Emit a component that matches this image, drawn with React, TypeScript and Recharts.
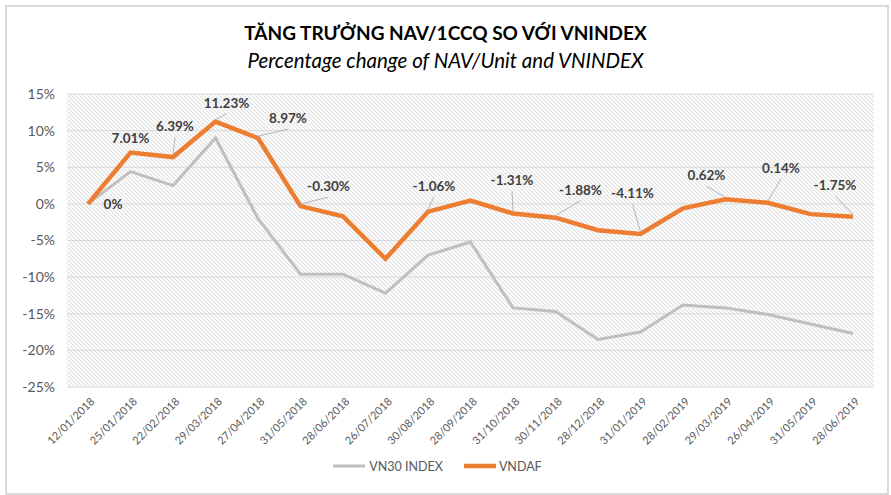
import React from 'react';
import { LineChart, Line, XAxis, YAxis, CartesianGrid, Legend } from 'recharts';

const categories = ['12/01/2018','25/01/2018','22/02/2018','29/03/2018','27/04/2018','31/05/2018','28/06/2018','26/07/2018','30/08/2018','28/09/2018','31/10/2018','30/11/2018','28/12/2018','31/01/2019','28/02/2019','29/03/2019','26/04/2019','31/05/2019','28/06/2019'];
const vn30Values = [0, 4.4, 2.5, 9.0, -2.0, -9.6, -9.6, -12.2, -7.0, -5.2, -14.2, -14.7, -18.5, -17.5, -13.8, -14.2, -15.1, -16.4, -17.7];
const vndafValues = [0, 7.01, 6.39, 11.23, 8.97, -0.30, -1.7, -7.5, -1.06, 0.45, -1.31, -1.88, -3.6, -4.11, -0.6, 0.62, 0.14, -1.4, -1.75];
const vndafLabels = ['0%','7.01%','6.39%','11.23%','8.97%','-0.30%','','','-1.06%','','-1.31%','-1.88%','','-4.11%','','0.62%','0.14%','','-1.75%'];
const yTicks = [-25, -20, -15, -10, -5, 0, 5, 10, 15];

const data = categories.map((c, i) => ({ date: c, vn30: vn30Values[i], vndaf: vndafValues[i], lbl: vndafLabels[i] }));

// label placement (layout only)
const labelLayout: Record<number, { dx: number; dy: number; leader: boolean }> = {
  0: { dx: 25, dy: 0, leader: false },
  1: { dx: 0, dy: -15, leader: false },
  2: { dx: 2, dy: -31, leader: true },
  3: { dx: 11, dy: -19, leader: true },
  4: { dx: 30, dy: -20, leader: true },
  5: { dx: 28, dy: -20, leader: true },
  8: { dx: 6, dy: -26, leader: true },
  10: { dx: -1, dy: -33, leader: true },
  11: { dx: 25, dy: -28, leader: true },
  13: { dx: -8, dy: -41, leader: true },
  15: { dx: -19, dy: -24, leader: true },
  16: { dx: 13, dy: -35, leader: true },
  18: { dx: -18, dy: -32, leader: true },
};

const FONT = 'Lato, "Open Sans", sans-serif';

const DataLabel = (props: any) => {
  const { x, y, index } = props;
  const text = vndafLabels[index];
  const lay = labelLayout[index];
  if (!text || !lay) return null;
  const lx = x + lay.dx;
  const ly = y + lay.dy;
  return (
    <g>
      {lay.leader && (
        <line x1={x} y1={y - 2} x2={lx} y2={ly + 11} stroke="#a6a6a6" strokeWidth={0.8} />
      )}
      <text x={lx} y={ly} textAnchor="middle" dominantBaseline="central" fontFamily={FONT} fontSize={13.5} fontWeight={700} fill="#404040">
        {text}
      </text>
    </g>
  );
};

const XTick = (props: any) => {
  const { x, y, payload } = props;
  return (
    <text x={x + 4} y={y + 4} transform={`rotate(-45, ${x + 4}, ${y + 4})`} textAnchor="end" dominantBaseline="central" fontFamily={FONT} fontSize={11} fill="#595959">
      {payload.value}
    </text>
  );
};

const LegendContent = () => (
  <div style={{ display: 'flex', justifyContent: 'center', alignItems: 'center', height: 20, fontFamily: FONT, fontSize: 12.5, color: '#595959' }}>
    <svg width={34} height={10}><line x1={1} y1={5} x2={33} y2={5} stroke="#BFBFBF" strokeWidth={3} /></svg>
    <span style={{ marginLeft: 3, marginRight: 20 }}>VN30 INDEX</span>
    <svg width={34} height={10}><line x1={1} y1={5} x2={33} y2={5} stroke="#ED7D31" strokeWidth={4.5} /></svg>
    <span style={{ marginLeft: 2 }}>VNDAF</span>
  </div>
);

export default function App() {
  return (
    <div style={{ position: 'absolute', left: 0, top: 0, width: 891, height: 495, background: '#fff' }}>
      <div style={{ position: 'absolute', left: 5, top: 5, width: 880, height: 486, border: '2px solid #d9d9d9' }} />
      <div style={{ position: 'absolute', left: 0, top: 20, width: 891, textAlign: 'center', fontFamily: FONT, fontWeight: 700, fontSize: 19, color: '#000', lineHeight: '26px' }}>
        TĂNG TRƯỞNG NAV/1CCQ SO VỚI VNINDEX
      </div>
      <div style={{ position: 'absolute', left: 0, top: 47, width: 891, textAlign: 'center', fontFamily: FONT, fontStyle: 'italic', fontSize: 20.5, color: '#000', lineHeight: '26px' }}>
        Percentage change of NAV/Unit and VNINDEX
      </div>
      <div style={{ position: 'absolute', left: 0, top: 0 }}>
        <LineChart width={891} height={495} data={data} margin={{ top: 94, right: 17, left: 0, bottom: 19 }}>
          <defs>
            <pattern id="hatch" width="4" height="4" patternUnits="userSpaceOnUse">
              <rect width="4" height="4" fill="#ffffff" />
              <path d="M0,0 L4,4 M-1,3 L1,5 M3,-1 L5,1" stroke="#e0e0e0" strokeWidth={1.1} />
            </pattern>
          </defs>
          <CartesianGrid vertical={false} stroke="#d9d9d9" strokeWidth={1} fill="url(#hatch)" fillOpacity={1} />
          <XAxis dataKey="date" interval={0} height={69} axisLine={false} tickLine={false} tick={<XTick />} padding={{ left: 21, right: 21 }} />
          <YAxis width={67} domain={[-25, 15]} ticks={yTicks} axisLine={false} tickLine={false} tickMargin={6}
            tickFormatter={(v: number) => `${v}%`} tick={{ fontFamily: FONT, fontSize: 14, fill: '#595959' }} />
          <Legend verticalAlign="bottom" height={20} content={<LegendContent />} />
          <Line type="linear" dataKey="vn30" name="VN30 INDEX" stroke="#BFBFBF" strokeWidth={3} dot={false} isAnimationActive={false} />
          <Line type="linear" dataKey="vndaf" name="VNDAF" stroke="#ED7D31" strokeWidth={4.5} dot={false} isAnimationActive={false} label={<DataLabel />} />
        </LineChart>
      </div>
    </div>
  );
}
